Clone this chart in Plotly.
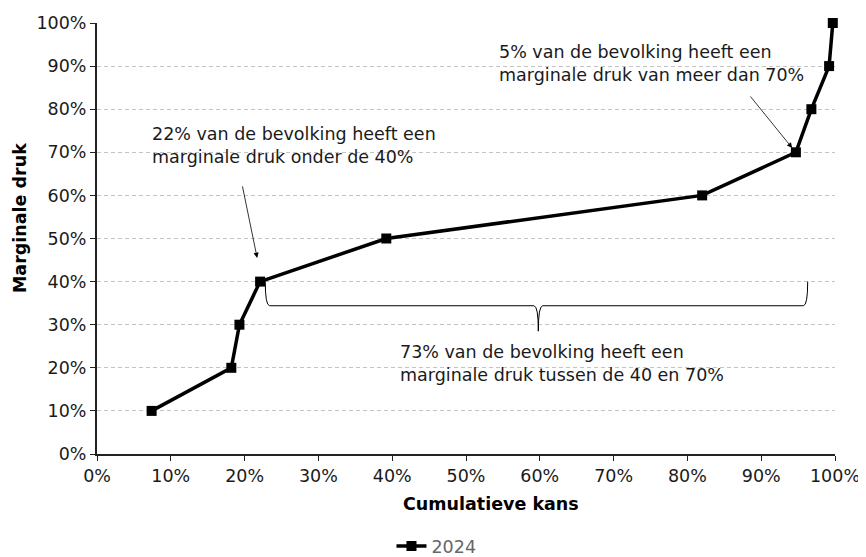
import plotly.graph_objects as go

# --- DATA ---
cum_kans = [0.074, 0.182, 0.193, 0.221, 0.392, 0.820, 0.947, 0.968, 0.992, 0.997]
marg_druk = [0.10, 0.20, 0.30, 0.40, 0.50, 0.60, 0.70, 0.80, 0.90, 1.00]
series_name = "2024"

tick_vals = [i / 10 for i in range(11)]
tick_text = [f"{i * 10}%" for i in range(11)]

note_low = "22% van de bevolking heeft een<br>marginale druk onder de 40%"
note_high = "5% van de bevolking heeft een<br>marginale druk van meer dan 70%"
note_mid = "73% van de bevolking heeft een<br>marginale druk tussen de 40 en 70%"

FONT = "DejaVu Sans"
FS = 17.5

fig = go.Figure()
fig.add_trace(go.Scatter(
    x=cum_kans, y=marg_druk, name=series_name, mode="lines+markers",
    line=dict(color="black", width=3.5),
    marker=dict(symbol="square", size=10, color="black"),
    cliponaxis=False,
))

# curly brace under the 40-70% range
x0, x1, xc = 0.228, 0.963, 0.598
yt, yb, ytip = 0.40, 0.344, 0.285
r = 0.006
brace = (f"M {x0},{yt} Q {x0},{yb} {x0 + r},{yb} L {xc - r},{yb} "
         f"Q {xc},{yb} {xc},{ytip} Q {xc},{yb} {xc + r},{yb} "
         f"L {x1 - r},{yb} Q {x1},{yb} {x1},{yt}")
fig.add_shape(type="path", path=brace, xref="x", yref="y",
              line=dict(color="black", width=1))

txt = dict(family=FONT, size=FS, color="#1a1a1a")
fig.add_annotation(x=0.072, y=0.715, text=note_low, showarrow=False,
                   xanchor="left", align="left", font=txt)
fig.add_annotation(x=0.542, y=0.907, text=note_high, showarrow=False,
                   xanchor="left", align="left", font=txt)
fig.add_annotation(x=0.408, y=0.209, text=note_mid, showarrow=False,
                   xanchor="left", align="left", font=txt)

# arrows
fig.add_annotation(x=0.217, y=0.455, ax=-15, ay=-73, text="", showarrow=True,
                   arrowhead=2, arrowsize=1.3, arrowwidth=0.8, arrowcolor="black")
fig.add_annotation(x=0.942, y=0.71, ax=-43, ay=-53, text="", showarrow=True,
                   arrowhead=2, arrowsize=1.3, arrowwidth=0.8, arrowcolor="black")

# axis titles
fig.add_annotation(x=0.534, y=-0.117, xref="paper", yref="paper", yanchor="middle",
                   text="<b>Cumulatieve kans</b>", showarrow=False,
                   font=dict(family=FONT, size=FS, color="black"))
fig.add_annotation(x=-0.104, y=0.548, xref="paper", yref="paper", textangle=-90,
                   xanchor="center", yanchor="middle",
                   text="<b>Marginale druk</b>", showarrow=False,
                   font=dict(family=FONT, size=FS, color="black"))

fig.update_xaxes(range=[0, 1], tickvals=tick_vals, ticktext=tick_text,
                 showgrid=False, showline=True, linecolor="#222", linewidth=2,
                 ticks="outside", ticklen=5, tickcolor="#222", zeroline=False,
                 automargin=False,
                 tickfont=dict(family=FONT, size=FS, color="#1a1a1a"))
fig.update_yaxes(range=[0, 1], tickvals=tick_vals, ticktext=tick_text,
                 showgrid=True, gridcolor="#c4c4c4", griddash="4px,3px", gridwidth=1,
                 showline=True, linecolor="#222", linewidth=2,
                 ticks="outside", ticklen=5, tickcolor="#222", zeroline=False,
                 automargin=False,
                 tickfont=dict(family=FONT, size=FS, color="#1a1a1a"))

# page body adds an 8px offset, so margins compensate for it
fig.update_layout(
    width=866, height=557,
    margin=dict(l=89, r=39, t=15, b=111, autoexpand=False),
    plot_bgcolor="white", paper_bgcolor="white",
    font=dict(family=FONT, size=FS),
    showlegend=True,
    legend=dict(orientation="h", x=0.46, xanchor="center", y=-0.172, yanchor="top",
                itemwidth=30,
                font=dict(family=FONT, size=FS, color="#666")),
)

fig.write_html("out.html")
